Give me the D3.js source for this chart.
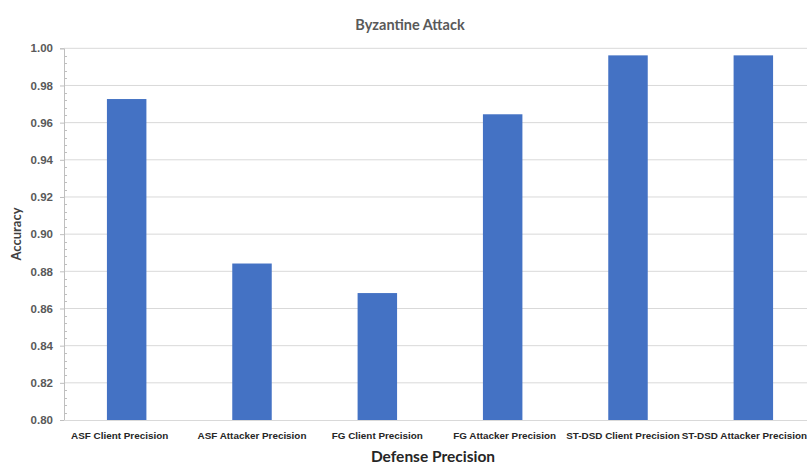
<!DOCTYPE html>
<html>
<head>
<meta charset="utf-8">
<script src="https://cdn.jsdelivr.net/npm/d3@7"></script>
<style>
  html, body { margin: 0; padding: 0; background: #fff; }
  svg { display: block; font-family: Lato, "Open Sans", sans-serif; }
</style>
</head>
<body>
<svg id="chart" width="807" height="464"></svg>
<script>
// Precision of each defense under the Byzantine attack
const categories = [
  "ASF Client Precision",
  "ASF Attacker Precision",
  "FG Client Precision",
  "FG Attacker Precision",
  "ST-DSD Client Precision",
  "ST-DSD Attacker Precision"
];
const accuracy = [0.9727, 0.8842, 0.8683, 0.9645, 0.9962, 0.9962];
const yTicks = [0.80, 0.82, 0.84, 0.86, 0.88, 0.90, 0.92, 0.94, 0.96, 0.98, 1.00];

const svg = d3.select("#chart");
const plotLeft = 64, plotRight = 816, plotTop = 48.3, plotBottom = 420;

const x = d3.scaleBand()
  .domain(categories)
  .range([plotLeft, plotRight])
  .paddingInner(0.685)
  .paddingOuter(0.3425);

const y = d3.scaleLinear().domain([0.80, 1.00]).range([plotBottom, plotTop]);

// horizontal gridlines
svg.append("g")
  .selectAll("line")
  .data(yTicks.slice(1))
  .join("line")
  .attr("x1", plotLeft).attr("x2", 807)
  .attr("y1", d => y(d)).attr("y2", d => y(d))
  .attr("stroke", "#d9d9d9").attr("stroke-width", 1);

// bars
svg.append("g")
  .selectAll("rect")
  .data(categories.map((c, i) => ({ c, v: accuracy[i] })))
  .join("rect")
  .attr("x", d => x(d.c))
  .attr("width", x.bandwidth())
  .attr("y", d => y(d.v))
  .attr("height", d => y(0.80) - y(d.v))
  .attr("fill", "#4472c4");

// y axis
const yAxis = d3.axisLeft(y)
  .tickValues(yTicks)
  .tickFormat(d3.format(".2f"))
  .tickSize(4)
  .tickPadding(7);
const gy = svg.append("g").attr("transform", `translate(${plotLeft},0)`).call(yAxis);
gy.select(".domain").attr("stroke", "#bfbfbf");
gy.selectAll(".tick line").attr("stroke", "#bfbfbf");
gy.selectAll(".tick text")
  .attr("fill", "#595959")
  .attr("font-size", "11.5px")
  .attr("font-weight", "bold");

// minor ticks inside the axis
const minor = d3.range(0.80, 1.0001, 0.004).filter(v => Math.abs(Math.round(v * 50) - v * 50) > 1e-6);
svg.append("g")
  .selectAll("line")
  .data(minor)
  .join("line")
  .attr("x1", plotLeft).attr("x2", plotLeft + 3)
  .attr("y1", d => Math.round(y(d)) + 0.5).attr("y2", d => Math.round(y(d)) + 0.5)
  .attr("stroke", "#bfbfbf");

// x axis; crowded labels are nudged so neighbours don't collide
const labelShift = [-7, 0, 0, 2, -5, -9];
const xAxis = d3.axisBottom(x).tickSize(0).tickPadding(12);
const gx = svg.append("g").attr("transform", `translate(0,${plotBottom})`).call(xAxis);
gx.select(".domain").remove();
svg.append("line")
  .attr("x1", plotLeft).attr("x2", 807)
  .attr("y1", plotBottom + 0.5).attr("y2", plotBottom + 0.5)
  .attr("stroke", "#d9d9d9");
gx.selectAll(".tick text")
  .attr("fill", "#262626")
  .attr("font-size", "9.9px")
  .attr("font-weight", "bold")
  .attr("dx", (d, i) => labelShift[i]);

// titles
svg.append("text")
  .attr("x", 410).attr("y", 30)
  .attr("text-anchor", "middle")
  .attr("fill", "#595959")
  .attr("font-size", "14.5px")
  .attr("font-weight", "bold")
  .text("Byzantine Attack");

svg.append("text")
  .attr("transform", "translate(21,234) rotate(-90)")
  .attr("text-anchor", "middle")
  .attr("fill", "#404040")
  .attr("font-size", "13px")
  .attr("font-weight", "bold")
  .text("Accuracy");

svg.append("text")
  .attr("x", 433).attr("y", 462)
  .attr("text-anchor", "middle")
  .attr("fill", "#262626")
  .attr("font-size", "15.5px")
  .attr("font-weight", "bold")
  .text("Defense Precision");
</script>
</body>
</html>
